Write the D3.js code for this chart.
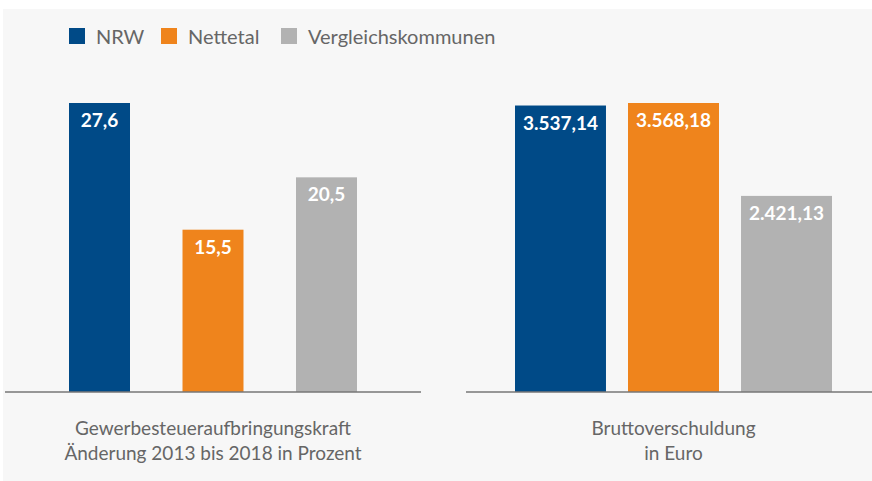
<!DOCTYPE html>
<html>
<head>
<meta charset="utf-8">
<script src="https://cdn.jsdelivr.net/npm/d3@7"></script>
<style>
  body { margin: 0; background: #fff; }
  svg text { font-family: Lato, "Open Sans", sans-serif; }
</style>
</head>
<body>
<div id="chart"></div>
<script>
// data
const series = ['NRW', 'Nettetal', 'Vergleichskommunen'];
const colors = ['#004a87', '#ef841c', '#b2b2b2'];
const steuerkraft = [27.6, 15.5, 20.5];
const verschuldung = [3537.14, 3568.18, 2421.13];
const steuerLabels = ['27,6', '15,5', '20,5'];
const schuldLabels = ['3.537,14', '3.568,18', '2.421,13'];
const titleLeft = ['Gewerbesteueraufbringungskraft', 'Änderung 2013 bis 2018 in Prozent'];
const titleRight = ['Bruttoverschuldung', 'in Euro'];

const width = 872, height = 481;
const baseY = 392, topY = 103;

const svg = d3.select('#chart').append('svg')
    .attr('width', width)
    .attr('height', height);

svg.append('rect')
    .attr('x', 3).attr('y', 9)
    .attr('width', width - 3).attr('height', height - 9)
    .attr('fill', '#f7f7f7');

// legend
const legendX = [69, 161, 281];
const legend = svg.append('g').attr('class', 'legend');
series.forEach((s, i) => {
    legend.append('rect')
        .attr('x', legendX[i]).attr('y', 28)
        .attr('width', 16).attr('height', 16)
        .attr('fill', colors[i]);
    legend.append('text')
        .attr('x', legendX[i] + 27).attr('y', 44)
        .attr('font-size', 20)
        .attr('fill', '#666')
        .text(s);
});

function panel(values, labels, titles, x0, x1, lineX0, lineX1, pad) {
    let x = d3.scaleBand()
        .domain(series)
        .range([x0, x1])
        .paddingInner(pad)
        .paddingOuter(0);
    let y = d3.scaleLinear()
        .domain([0, d3.max(values)])
        .range([baseY, topY]);

    let g = svg.append('g');
    g.selectAll('rect').data(values).enter().append('rect')
        .attr('x', (d, i) => x(series[i]))
        .attr('y', d => y(d))
        .attr('width', x.bandwidth())
        .attr('height', d => baseY - y(d))
        .attr('fill', (d, i) => colors[i]);

    g.selectAll('text.val').data(values).enter().append('text')
        .attr('class', 'val')
        .attr('x', (d, i) => x(series[i]) + x.bandwidth() / 2)
        .attr('y', d => y(d) + 24)
        .attr('text-anchor', 'middle')
        .attr('font-size', 19)
        .attr('font-weight', 700)
        .attr('fill', '#fff')
        .text((d, i) => labels[i]);

    g.append('line')
        .attr('x1', lineX0).attr('x2', lineX1)
        .attr('y1', baseY).attr('y2', baseY)
        .attr('stroke', '#777')
        .attr('stroke-width', 1.5);

    let cx = (x0 + x1) / 2;
    g.selectAll('text.title').data(titles).enter().append('text')
        .attr('class', 'title')
        .attr('x', cx)
        .attr('y', (d, i) => 435 + i * 25)
        .attr('text-anchor', 'middle')
        .attr('font-size', 19)
        .attr('fill', '#666')
        .text(d => d);
}

panel(steuerkraft, steuerLabels, titleLeft, 69, 357, 5, 421, 0.4626);
panel(verschuldung, schuldLabels, titleRight, 515, 832, 466, 872, 0.195);
</script>
</body>
</html>
